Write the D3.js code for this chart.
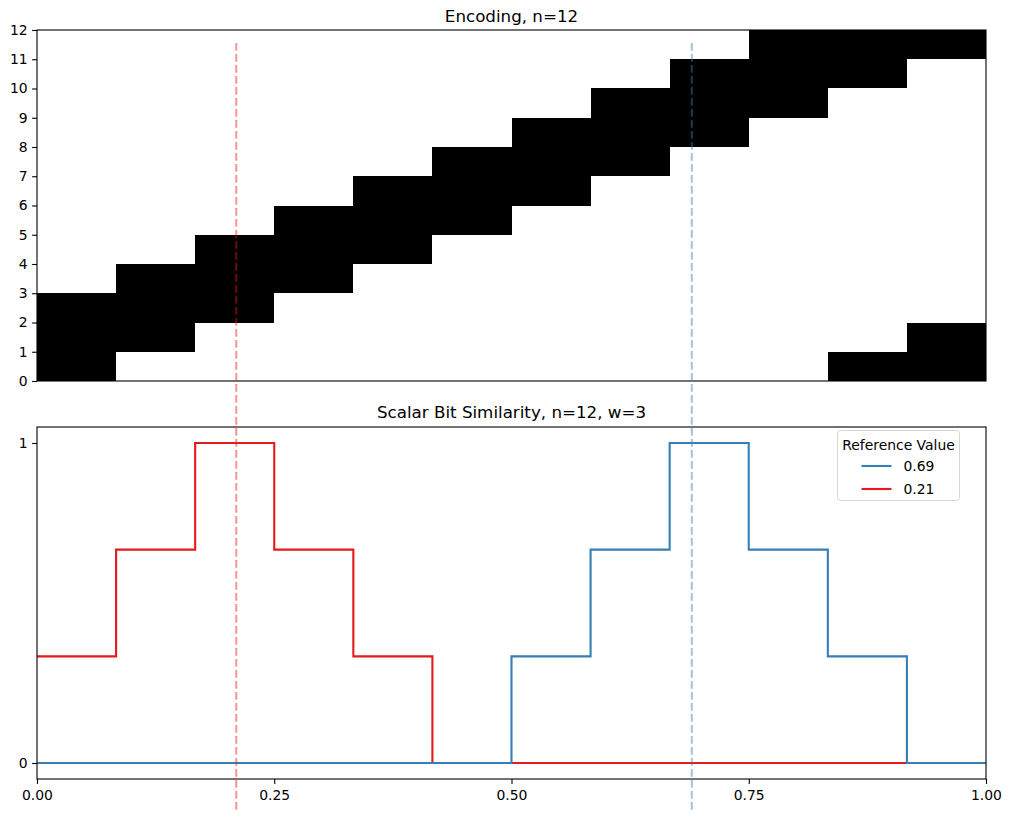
<!DOCTYPE html>
<html>
<head>
<meta charset="utf-8">
<script src="https://cdn.jsdelivr.net/npm/d3@7"></script>
<style>
  body { margin: 0; background: #fff; }
  text { font-family: "DejaVu Sans", sans-serif; fill: #000; }
  .axis path, .axis line { stroke: #000; stroke-width: 1.1; }
  .axis text { font-size: 13.9px; }
</style>
</head>
<body>
<div id="main"></div>
<script>
// data
var nBits = 12, w = 3;
// active bits for each bucket column of the encoding
var activeBits = [
  [0, 1, 2], [1, 2, 3], [2, 3, 4], [3, 4, 5], [4, 5, 6], [5, 6, 7],
  [6, 7, 8], [7, 8, 9], [8, 9, 10], [9, 10, 11], [10, 11, 0], [11, 0, 1]
];
var refValues = [0.69, 0.21];
var refColors = ["#377eb8", "#e41a1c"];
// similarity per bucket column
var sim069 = [0, 0, 0, 0, 0, 0, 1/3, 2/3, 1, 2/3, 1/3, 0];
var sim021 = [1/3, 2/3, 1, 2/3, 1/3, 0, 0, 0, 0, 0, 0, 0];
var simSeries = [sim069, sim021];
var xTicks = [0, 0.25, 0.5, 0.75, 1];
var topYTicks = d3.range(0, 13);
var bottomYTicks = [0, 1];

var W = 1011, H = 823;
var left = 37, right = 986;
var top1 = 30, bot1 = 381;
var top2 = 427, bot2 = 779;

var svg = d3.select("#main").append("svg")
    .attr("width", W).attr("height", H);

var xScale = d3.scaleLinear().domain([0, 1]).range([left, right]);
var y1 = d3.scaleLinear().domain([0, 12]).range([bot1, top1]);
var y2 = d3.scaleLinear().domain([-0.05, 1.05]).range([bot2, top2]);

// ---- top panel: encoding ----
var cells = [];
activeBits.forEach(function(bits, c) {
  bits.forEach(function(b) { cells.push({col: c, bit: b}); });
});
svg.append("g").attr("shape-rendering", "crispEdges")
    .selectAll("rect")
    .data(cells).enter().append("rect")
    .attr("x", function(d) { return Math.round(xScale(d.col / activeBits.length)); })
    .attr("width", function(d) { return Math.round(xScale((d.col + 1) / activeBits.length)) - Math.round(xScale(d.col / activeBits.length)); })
    .attr("y", function(d) { return Math.round(y1(d.bit + 1)); })
    .attr("height", function(d) { return Math.round(y1(d.bit)) - Math.round(y1(d.bit + 1)); })
    .attr("fill", "#000");

svg.append("rect")
    .attr("x", left).attr("y", top1)
    .attr("width", right - left).attr("height", bot1 - top1)
    .attr("fill", "none").attr("stroke", "#000").attr("stroke-width", 1.1);

svg.append("g").attr("class", "axis")
    .attr("transform", "translate(" + left + ",0)")
    .call(d3.axisLeft(y1).tickValues(topYTicks).tickSize(4.9).tickPadding(4.5).tickFormat(d3.format("d")))
    .call(function(g) { g.select(".domain").remove(); });

svg.append("text")
    .attr("x", (left + right) / 2).attr("y", 22)
    .attr("text-anchor", "middle").style("font-size", "16.7px")
    .text("Encoding, n=" + nBits);

// ---- bottom panel: similarity ----
var line = d3.line()
    .x(function(d) { return xScale(d[0]); })
    .y(function(d) { return y2(d[1]); })
    .curve(d3.curveStepAfter);

// red drawn first, blue on top
[1, 0].forEach(function(k) {
  var s = simSeries[k];
  var pts = s.map(function(v, i) { return [i / s.length, v]; });
  pts.push([1, s[s.length - 1]]);
  svg.append("path")
      .datum(pts)
      .attr("d", line)
      .attr("fill", "none")
      .attr("stroke", refColors[k])
      .attr("stroke-width", 2.1);
});

svg.append("rect")
    .attr("x", left).attr("y", top2)
    .attr("width", right - left).attr("height", bot2 - top2)
    .attr("fill", "none").attr("stroke", "#000").attr("stroke-width", 1.1);

svg.append("g").attr("class", "axis")
    .attr("transform", "translate(" + left + ",0)")
    .call(d3.axisLeft(y2).tickValues(bottomYTicks).tickSize(4.9).tickPadding(4.5).tickFormat(d3.format("d")))
    .call(function(g) { g.select(".domain").remove(); });

svg.append("g").attr("class", "axis")
    .attr("transform", "translate(0," + bot2 + ")")
    .call(d3.axisBottom(xScale).tickValues(xTicks).tickSize(4.9).tickPadding(6.5).tickFormat(d3.format(".2f")))
    .call(function(g) { g.select(".domain").remove(); });

svg.append("text")
    .attr("x", (left + right) / 2).attr("y", 418)
    .attr("text-anchor", "middle").style("font-size", "16.7px")
    .text("Scalar Bit Similarity, n=" + nBits + ", w=" + w);

// legend
var lg = svg.append("g").attr("transform", "translate(837.5,430.5)");
lg.append("rect")
    .attr("width", 122).attr("height", 70).attr("rx", 3)
    .attr("fill", "#fff").attr("fill-opacity", 0.8)
    .attr("stroke", "#d6d6d6").attr("stroke-width", 1);
lg.append("text")
    .attr("x", 61).attr("y", 19)
    .attr("text-anchor", "middle").style("font-size", "13.9px")
    .text("Reference Value");
refValues.forEach(function(v, i) {
  var yy = 35.5 + i * 23;
  lg.append("line")
      .attr("x1", 24).attr("x2", 54).attr("y1", yy).attr("y2", yy)
      .attr("stroke", refColors[i]).attr("stroke-width", 2.1);
  lg.append("text")
      .attr("x", 66).attr("y", yy + 5)
      .style("font-size", "13.9px")
      .text(v.toFixed(2));
});

// reference markers across both panels
refValues.forEach(function(v, i) {
  svg.append("line")
      .attr("x1", xScale(v)).attr("x2", xScale(v))
      .attr("y1", 43).attr("y2", 812)
      .attr("stroke", refColors[i])
      .attr("stroke-opacity", 0.45)
      .attr("stroke-width", 2.1)
      .attr("stroke-dasharray", "7.7,3.3");
});
</script>
</body>
</html>
